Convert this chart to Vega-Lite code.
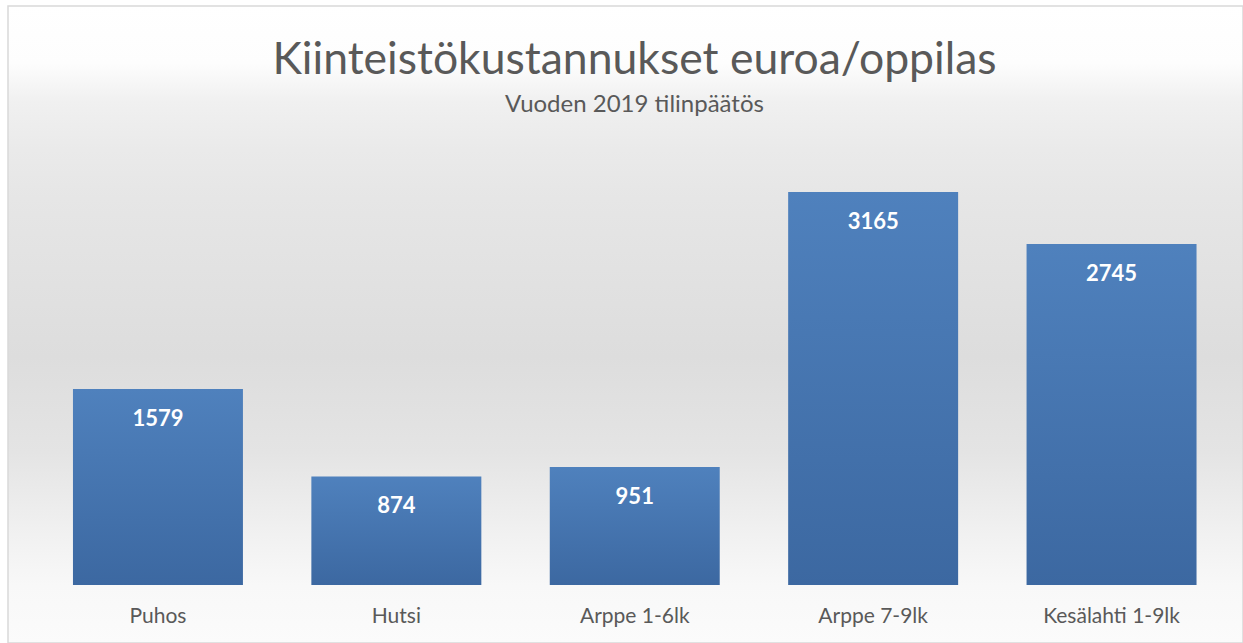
{
  "$schema": "https://vega.github.io/schema/vega-lite/v6.json",
  "autosize": {"type": "none"},
  "padding": {"left": 8, "top": 6, "right": 0, "bottom": 0},
  "width": 1235,
  "height": 637,
  "background": "#ffffff",
  "view": {
    "stroke": "#d9d9d9",
    "strokeWidth": 1.5,
    "fill": {
      "gradient": "linear", "x1": 0, "y1": 0, "x2": 0, "y2": 1,
      "stops": [
        {"offset": 0, "color": "#ffffff"},
        {"offset": 0.09, "color": "#fdfdfd"},
        {"offset": 0.15, "color": "#f0f0f0"},
        {"offset": 0.226, "color": "#eaeaea"},
        {"offset": 0.3, "color": "#e6e6e6"},
        {"offset": 0.55, "color": "#dddddd"},
        {"offset": 0.7, "color": "#e4e4e4"},
        {"offset": 0.83, "color": "#f1f1f1"},
        {"offset": 0.91, "color": "#f8f8f8"},
        {"offset": 1, "color": "#fbfbfb"}
      ]
    }
  },
  "title": {
    "text": "Kiinteistökustannukset euroa/oppilas",
    "subtitle": "Vuoden 2019 tilinpäätös",
    "anchor": "middle",
    "frame": "group",
    "offset": -112,
    "dx": 9,
    "font": "Lato",
    "fontSize": 44.5,
    "fontWeight": "normal",
    "color": "#595959",
    "subtitleFont": "Lato",
    "subtitleFontSize": 24,
    "subtitleColor": "#595959",
    "subtitlePadding": 10
  },
  "data": {
    "values": [
      {"koulu": "Puhos", "euroa": 1579},
      {"koulu": "Hutsi", "euroa": 874},
      {"koulu": "Arppe 1-6lk", "euroa": 951},
      {"koulu": "Arppe 7-9lk", "euroa": 3165},
      {"koulu": "Kesälahti 1-9lk", "euroa": 2745}
    ]
  },
  "encoding": {
    "x": {
      "field": "koulu", "type": "nominal", "sort": null,
      "scale": {"paddingInner": 0.287, "paddingOuter": 0.2337, "align": 0.583},
      "axis": {
        "title": null, "domain": false, "ticks": false, "labelAngle": 0,
        "offset": -58, "labelPadding": 20, "labelFont": "Lato", "labelFontSize": 21,
        "labelColor": "#595959", "grid": false
      }
    },
    "y": {
      "field": "euroa", "type": "quantitative",
      "scale": {"domain": [-467, 4662], "nice": false, "zero": false},
      "axis": null
    }
  },
  "layer": [
    {
      "mark": {
        "type": "bar",
        "color": {
          "gradient": "linear", "x1": 0, "y1": 0, "x2": 0, "y2": 1,
          "stops": [
            {"offset": 0, "color": "#4f81bd"},
            {"offset": 1, "color": "#3c68a1"}
          ]
        }
      },
      "encoding": {"y2": {"datum": 0}}
    },
    {
      "mark": {"type": "text", "baseline": "middle", "dy": 30, "font": "Lato", "fontSize": 22, "fontWeight": "bold", "color": "#ffffff"},
      "encoding": {"text": {"field": "euroa", "type": "quantitative"}}
    }
  ]
}
